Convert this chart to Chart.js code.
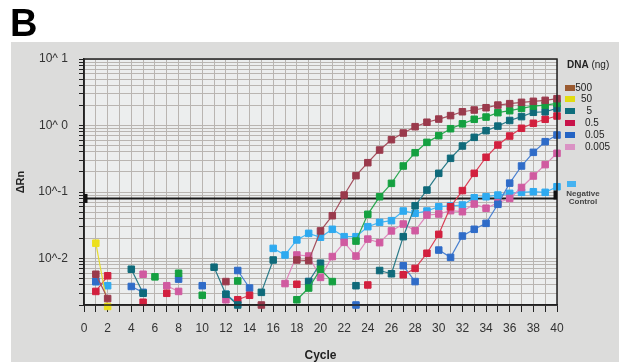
<!DOCTYPE html>
<html>
<head>
<meta charset="utf-8">
<script src="https://cdn.jsdelivr.net/npm/chart.js@4.4.1/dist/chart.umd.min.js"></script>
<style>
  html, body { margin: 0; padding: 0; background: #ffffff; }
  #wrap { position: relative; width: 619px; height: 362px; overflow: hidden; }
  #c { position: absolute; left: 0; top: 0; }
  #overlay { position: absolute; left: 0; top: 0; width: 619px; height: 362px; pointer-events: none;
             font-family: "Liberation Sans", Arial, sans-serif; color: #222; }
  .panel-letter { position: absolute; left: 10px; top: 1px; font-size: 38px; font-weight: bold; line-height: 44px; color: #000; }
  .lg-title { position: absolute; left: 567px; top: 59px; font-size: 10px; line-height: 12px; white-space: nowrap; }
  .lg-box { position: absolute; left: 565px; width: 10px; height: 6px; }
  .lg-text { position: absolute; font-size: 10px; line-height: 12px; white-space: nowrap; color: #222; }
  .lg-neg { position: absolute; left: 560px; width: 46px; text-align: center; font-size: 8px; font-weight: bold; line-height: 8px; color: #444; }
</style>
</head>
<body>
<div id="wrap">
  <canvas id="c" width="619" height="362"></canvas>
  <div id="overlay"></div>
</div>
<script>
// PCR cycle numbers (x axis)
const cycles = [1,2,3,4,5,6,7,8,9,10,11,12,13,14,15,16,17,18,19,20,
                21,22,23,24,25,26,27,28,29,30,31,32,33,34,35,36,37,38,39,40];

// ΔRn per cycle for each template amount (null = no reading shown)
const ng500 = [0.0058,0.0025,null,null,null,null,null,null,null,null,
               null,0.0045,null,null,0.0020,null,null,0.0095,0.0093,0.026,
               0.044,0.090,0.176,0.276,0.428,0.612,0.771,0.96,1.12,1.25,
               1.41,1.61,1.71,1.85,2.03,2.13,2.23,2.31,2.39,2.53];
const ng50 = [0.017,0.0019,null,null,null,null,null,null,null,null,
              null,null,null,null,null,null,null,null,null,null,
              null,null,null,null,null,null,null,null,null,null,
              null,null,null,null,null,null,null,null,null,null];
const ng50Amp = [null,null,null,null,null,0.0053,null,0.0060,null,0.0028,
                 null,null,0.0046,null,null,null,null,0.0024,0.0036,0.0069,
                 0.0045,null,0.0183,0.0462,0.085,0.135,0.246,0.39,0.558,0.703,
                 0.895,1.06,1.24,1.34,1.56,1.67,1.81,1.96,2.03,2.15];
const ng5 = [null,null,null,0.0069,0.0030,null,null,null,null,null,
             0.0074,0.0029,0.0020,null,0.0031,0.0095,null,null,0.0045,0.0085,
             null,null,0.0039,null,0.0066,0.0059,0.0213,0.0622,0.107,0.191,
             0.321,0.492,0.664,0.836,0.98,1.19,1.36,1.58,1.61,1.81];
const ng05 = [0.0032,0.0055,null,null,0.0022,null,0.0030,null,null,null,
              null,null,0.0024,0.0028,null,null,null,0.0041,null,null,
              null,null,null,0.0040,null,null,0.0057,0.0071,0.012,0.0231,
              0.060,0.105,0.191,0.333,0.509,0.695,0.908,1.08,1.24,1.39];
const ng005 = [0.0045,null,null,0.0038,0.0031,null,null,0.0049,null,0.0039,
               null,null,0.0066,0.0036,null,null,null,null,0.0045,null,
               null,null,0.0020,null,null,null,0.0078,0.0045,null,0.0134,
               0.0104,0.0218,0.0275,0.0338,0.0653,0.136,0.246,0.395,0.571,0.719];
const ng0005 = [null,null,null,null,0.0058,null,0.0039,0.0032,null,null,
                null,0.0024,null,null,null,null,0.0042,0.0113,0.0109,0.0052,
                0.0107,0.0175,0.0109,0.0196,0.0173,0.026,0.033,0.0262,0.045,0.0467,
                0.0524,0.0506,0.066,0.057,0.069,0.080,0.117,0.174,0.258,0.382];
const negControl = [0.0045,0.0039,null,null,null,null,null,null,null,null,
                    null,0.0029,0.0021,null,null,0.0142,0.0113,0.019,0.0239,0.0209,
                    0.0275,0.0213,0.0213,0.0301,0.035,0.0371,0.0518,0.0479,0.0518,0.0601,
                    0.0617,0.0638,0.082,0.085,0.090,0.0955,0.0989,0.101,0.0989,0.12];

// detection threshold
const thresholdCycles = [0, 40];
const thresholdValue = 0.08;

// y axis: decade ticks with labels, plus minor ticks in between
const yMajorTicks = [0.01, 0.1, 1, 10];
const yMajorLabels = ['10^-2', '10^-1', '10^ 0', '10^ 1'];
const yMinorMultipliers = [2, 3, 4, 5, 6, 7, 8, 9];
const yDecades = [0.001, 0.01, 0.1, 1];
const yMin = 0.002, yMax = 10;

// legend entries
const legendLabels = ['500', '50', '5', '0.5', '0.05', '0.005'];
const legendColors = ['#9a5a30', '#e2dc10', '#0e6e7c', '#c8134a', '#2464c4', '#da92c4'];
const negLegendColor = '#46b2f0';

const toPoints = arr => cycles.map((c, i) => ({ x: c, y: arr[i] }));

function series(label, arr, color, lineColor, order) {
  return {
    label, data: toPoints(arr), order,
    borderColor: lineColor, backgroundColor: color,
    pointBackgroundColor: color, pointBorderColor: color,
    pointStyle: 'rect', pointRadius: 4.6, pointBorderWidth: 1,
    borderWidth: 1.2, tension: 0, spanGaps: false, clip: 6
  };
}

const datasets = [
  series('500', ng500, '#9a3a4c', '#a4505e', 1),
  series('50', ng50, '#ece01c', '#e6dc30', 2),
  series('50 amp', ng50Amp, '#14a040', '#2aa850', 3),
  series('5', ng5, '#0f6a7a', '#2a7a88', 4),
  series('0.5', ng05, '#d2203e', '#da4056', 5),
  series('0.05', ng005, '#2f6cc8', '#4a80d0', 6),
  series('0.005', ng0005, '#d05aa0', '#de88bc', 7),
  series('Negative Control', negControl, '#2eaaf0', '#46b6f2', 8),
  {
    label: 'threshold',
    data: thresholdCycles.map(c => ({ x: c, y: thresholdValue })),
    borderColor: '#1a1a1a', borderWidth: 2, pointRadius: 0, order: 20, clip: 0
  }
];

const isMajor = v => yMajorTicks.some(m => Math.abs(Math.log10(v) - Math.log10(m)) < 1e-6);

const frame = {
  id: 'frame',
  beforeDraw(chart) {
    const { ctx, chartArea: a } = chart;
    ctx.save();
    ctx.fillStyle = '#ffffff';
    ctx.fillRect(0, 0, chart.width, chart.height);
    ctx.fillStyle = '#dcdcdb';
    ctx.fillRect(11, 42, chart.width - 11, chart.height - 42);
    ctx.fillStyle = '#eceeee';
    ctx.fillRect(a.left, a.top, a.right - a.left, a.bottom - a.top);
    ctx.restore();
  },
  afterDraw(chart) {
    const { ctx, chartArea: a } = chart;
    const ty = chart.scales.y.getPixelForValue(thresholdValue);
    ctx.save();
    ctx.strokeStyle = '#222';
    ctx.lineWidth = 1.5;
    ctx.strokeRect(a.left, a.top, a.right - a.left, a.bottom - a.top);
    ctx.fillStyle = '#111';
    ctx.fillRect(a.left, ty - 4.5, 3.5, 9);
    ctx.fillRect(a.right - 3.5, ty - 8, 3.5, 9);
    ctx.restore();
  }
};

new Chart(document.getElementById('c'), {
  type: 'line',
  data: { datasets },
  options: {
    responsive: false,
    animation: false,
    devicePixelRatio: 1,
    layout: { padding: { left: 0, top: 59, right: 62, bottom: 0 } },
    plugins: { legend: { display: false }, tooltip: { enabled: false } },
    scales: {
      x: {
        type: 'linear', min: 0, max: 40,
        afterFit: s => { s.height = 57; },
        ticks: {
          stepSize: 1, autoSkip: false, maxRotation: 0, padding: 9,
          color: '#333', font: { family: '"Liberation Sans", Arial, sans-serif', size: 12 },
          callback: v => (v % 2 === 0 ? String(v) : '')
        },
        grid: { color: '#b9b5b1', lineWidth: 1, tickColor: '#222', tickLength: 7 },
        border: { color: '#222', width: 1.5 },
        title: {
          display: true, text: 'Cycle', color: '#222',
          font: { family: '"Liberation Sans", Arial, sans-serif', size: 12, weight: 'bold', lineHeight: 1 },
          padding: { top: 0, bottom: 0 }
        }
      },
      y: {
        type: 'logarithmic', min: yMin, max: yMax,
        afterFit: s => { s.width = 84; },
        afterBuildTicks: s => {
          const vals = [];
          yDecades.forEach(d => {
            [1].concat(yMinorMultipliers).forEach(m => {
              const v = +(d * m).toPrecision(6);
              if (v >= yMin && v <= yMax) vals.push(v);
            });
          });
          vals.push(yMax);
          s.ticks = vals.map(v => ({ value: v, major: isMajor(v) }));
        },
        ticks: {
          autoSkip: false, padding: 11, color: '#333',
          font: { family: '"Liberation Sans", Arial, sans-serif', size: 12 },
          callback: v => {
            const i = yMajorTicks.findIndex(m => Math.abs(Math.log10(v) - Math.log10(m)) < 1e-6);
            return i >= 0 ? yMajorLabels[i] : '';
          }
        },
        grid: { color: '#b9b5b1', lineWidth: 1, tickColor: '#222', tickLength: 5 },
        border: { color: '#222', width: 1.5 },
        title: {
          display: true, text: 'ΔRn', color: '#222',
          font: { family: '"Liberation Sans", Arial, sans-serif', size: 11, weight: 'bold', lineHeight: 1.2 },
          padding: { top: 14, bottom: 0 }
        }
      }
    }
  },
  plugins: [frame]
});

// panel letter and legend
const ov = document.getElementById('overlay');
const add = (cls, html, style) => {
  const d = document.createElement('div');
  d.className = cls; d.innerHTML = html;
  Object.assign(d.style, style || {});
  ov.appendChild(d);
  return d;
};
add('panel-letter', 'B');
add('lg-title', '<b>DNA</b> (ng)');
legendLabels.forEach((lab, i) => {
  const cy = 87.5 + i * 11.8;
  add('lg-box', '', { top: (cy - 3) + 'px', background: legendColors[i] });
  const st = { top: (cy - 6) + 'px' };
  if (lab.indexOf('.') >= 0) st.left = '585px'; else st.right = (619 - 592) + 'px';
  add('lg-text', lab, st);
});
add('lg-box', '', { left: '567px', top: '181px', width: '9px', height: '6px', background: negLegendColor });
add('lg-neg', 'Negative<br>Control', { top: '190px' });
</script>
</body>
</html>
